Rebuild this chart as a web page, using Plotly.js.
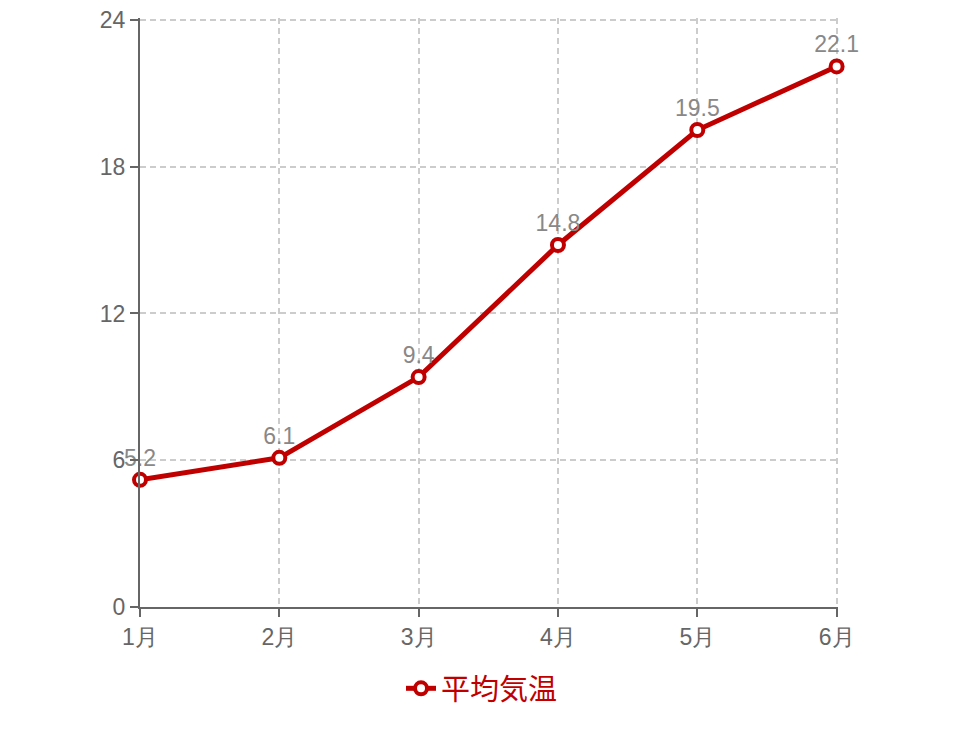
<!DOCTYPE html>
<html>
<head>
<meta charset="utf-8">
<script src="https://cdn.plot.ly/plotly-3.0.1.min.js"></script>
<style>
  body { margin: 0; background: #fff; }
  #chart { width: 976px; height: 736px; }
</style>
</head>
<body>
<div id="chart"></div>
<script>
// Monthly values
var months = ['1月', '2月', '3月', '4月', '5月', '6月'];
var avgTemp = [5.2, 6.1, 9.4, 14.8, 19.5, 22.1];
var yTicks = [0, 6, 12, 18, 24];

var red = '#c00000';
var font = 'Liberation Sans, Arial, sans-serif';

var trace = {
    x: months,
    y: avgTemp,
    name: '平均気温',
    type: 'scatter',
    mode: 'lines+markers+text',
    text: avgTemp.map(function (v) { return v.toFixed(1); }),
    textposition: 'top center',
    textfont: { family: font, size: 23, color: '#888888' },
    line: { color: red, width: 5 },
    marker: {
        size: 12,
        color: '#ffffff',
        line: { color: red, width: 4 }
    },
    cliponaxis: false
};

var layout = {
    width: 976,
    height: 736,
    margin: { l: 140, r: 138, t: 18, b: 129 },
    paper_bgcolor: '#ffffff',
    plot_bgcolor: '#ffffff',
    font: { family: font, size: 22, color: '#666666' },
    showlegend: true,
    legend: {
        orientation: 'h',
        x: 0.49,
        xanchor: 'center',
        y: -0.095,
        yanchor: 'top',
        font: { family: 'Noto Sans CJK JP, sans-serif', size: 29, color: red }
    },
    xaxis: {
        type: 'category',
        range: [0, 5.01],
        showline: true,
        linecolor: '#666666',
        linewidth: 2,
        ticks: 'outside',
        ticklen: 8,
        tickcolor: '#666666',
        tickwidth: 2,
        showgrid: true,
        gridcolor: '#cccccc',
        griddash: '6px,4px',
        gridwidth: 2,
        zeroline: false,
        tickfont: { family: font, size: 23, color: '#666666' }
    },
    yaxis: {
        range: [0, 24.08],
        tickvals: yTicks,
        showline: true,
        linecolor: '#666666',
        linewidth: 2,
        ticks: 'outside',
        ticklen: 8,
        tickcolor: '#666666',
        tickwidth: 2,
        showgrid: true,
        gridcolor: '#cccccc',
        griddash: '6px,4px',
        gridwidth: 2,
        zeroline: false,
        tickfont: { family: font, size: 23, color: '#666666' }
    }
};

Plotly.newPlot('chart', [trace], layout, { staticPlot: true });
</script>
</body>
</html>
